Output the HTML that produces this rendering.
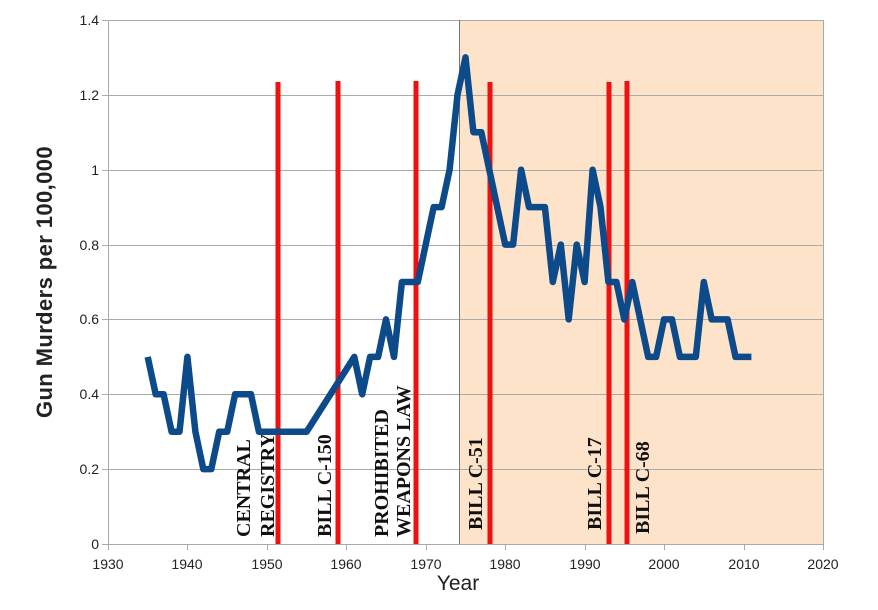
<!DOCTYPE html>
<html><head><meta charset="utf-8"><style>
html,body{margin:0;padding:0;background:#fff;}
svg{display:block;}
.t{font-family:"Liberation Sans",sans-serif;font-size:14px;fill:#222;}
.l{font-family:"Liberation Serif",serif;font-size:20px;font-weight:bold;fill:#111;}
</style></head><body>
<svg width="878" height="610" xmlns="http://www.w3.org/2000/svg">
<rect x="0" y="0" width="878" height="610" fill="#fff"/>
<rect x="459" y="20" width="364" height="524" fill="#fde3c9"/>
<g stroke="#aaa" stroke-width="1">
<line x1="102" y1="20.5" x2="823" y2="20.5"/>
<line x1="102" y1="95.5" x2="823" y2="95.5"/>
<line x1="102" y1="170.5" x2="823" y2="170.5"/>
<line x1="102" y1="245.5" x2="823" y2="245.5"/>
<line x1="102" y1="319.5" x2="823" y2="319.5"/>
<line x1="102" y1="394.5" x2="823" y2="394.5"/>
<line x1="102" y1="469.5" x2="823" y2="469.5"/>
<line x1="102" y1="544.5" x2="823" y2="544.5"/>
<line x1="108.5" y1="20" x2="108.5" y2="550"/>
<line x1="823.5" y1="20" x2="823.5" y2="550"/>
<line x1="187.5" y1="544" x2="187.5" y2="550"/>
<line x1="267.5" y1="544" x2="267.5" y2="550"/>
<line x1="346.5" y1="544" x2="346.5" y2="550"/>
<line x1="426.5" y1="544" x2="426.5" y2="550"/>
<line x1="505.5" y1="544" x2="505.5" y2="550"/>
<line x1="585.5" y1="544" x2="585.5" y2="550"/>
<line x1="664.5" y1="544" x2="664.5" y2="550"/>
<line x1="744.5" y1="544" x2="744.5" y2="550"/>
</g>
<line x1="459.5" y1="20" x2="459.5" y2="544" stroke="#777" stroke-width="1"/>
<g class="t" text-anchor="end">
<text x="99" y="25">1.4</text><text x="99" y="100">1.2</text><text x="99" y="175">1</text>
<text x="99" y="250">0.8</text><text x="99" y="324">0.6</text><text x="99" y="399">0.4</text>
<text x="99" y="474">0.2</text><text x="99" y="549">0</text>
</g>
<g class="t" text-anchor="middle">
<text x="108" y="569">1930</text><text x="187" y="569">1940</text><text x="267" y="569">1950</text>
<text x="346" y="569">1960</text><text x="426" y="569">1970</text><text x="505" y="569">1980</text>
<text x="585" y="569">1990</text><text x="664" y="569">2000</text><text x="744" y="569">2010</text>
<text x="823" y="569">2020</text>
</g>
<text x="458" y="590" text-anchor="middle" font-family="Liberation Sans,sans-serif" font-size="21" fill="#222">Year</text>
<text transform="translate(52,282) rotate(-90)" text-anchor="middle" font-family="Liberation Sans,sans-serif" font-size="22" font-weight="bold" letter-spacing="0.4" fill="#222">Gun Murders per 100,000</text>
<g class="l">
<text transform="translate(250,537) rotate(-90)">CENTRAL</text>
<text transform="translate(274,537) rotate(-90)">REGISTRY</text>
<text transform="translate(331,537) rotate(-90)">BILL C-150</text>
<text transform="translate(388,537) rotate(-90)">PROHIBITED</text>
<text transform="translate(410,537) rotate(-90)">WEAPONS LAW</text>
<text transform="translate(482,530) rotate(-90)">BILL C-51</text>
<text transform="translate(601,530) rotate(-90)">BILL C-17</text>
<text transform="translate(649,534) rotate(-90)">BILL C-68</text>
</g>
<g stroke="#f01010" stroke-width="5">
<line x1="278" y1="82" x2="278" y2="544"/>
<line x1="338" y1="81" x2="338" y2="544"/>
<line x1="416" y1="81" x2="416" y2="544"/>
<line x1="490" y1="82" x2="490" y2="544"/>
<line x1="609" y1="82" x2="609" y2="544"/>
<line x1="627" y1="81" x2="627" y2="544"/>
</g>
<polyline fill="none" stroke="#0d4a8a" stroke-width="6.5" stroke-linejoin="round" points="
147.7,356.9 155.7,394.3 163.6,394.3 171.6,431.7 179.5,431.7 187.4,356.9 195.4,431.7 203.3,469.1 211.3,469.1 219.2,431.7 227.2,431.7 235.1,394.3 243.0,394.3 251.0,394.3 258.9,431.7 266.9,431.7 274.8,431.7 282.8,431.7 290.7,431.7 298.6,431.7 306.6,431.7 354.3,356.9 362.2,394.3 370.1,356.9 378.1,356.9 386.0,319.4 394.0,356.9 401.9,282.0 409.9,282.0 417.8,282.0 425.7,244.6 433.7,207.1 441.6,207.1 449.6,169.7 457.5,94.8 465.5,57.4 473.4,132.2 481.3,132.2 505.2,244.6 513.1,244.6 521.1,169.7 529.0,207.1 537.0,207.1 544.9,207.1 552.8,282.0 560.8,244.6 568.7,319.4 576.7,244.6 584.6,282.0 592.6,169.7 600.5,207.1 608.4,282.0 616.4,282.0 624.3,319.4 632.3,282.0 648.2,356.9 656.1,356.9 664.0,319.4 672.0,319.4 679.9,356.9 687.9,356.9 695.8,356.9 703.8,282.0 711.7,319.4 719.6,319.4 727.6,319.4 735.5,356.9 743.5,356.9 751.4,356.9"/>
</svg>
</body></html>
